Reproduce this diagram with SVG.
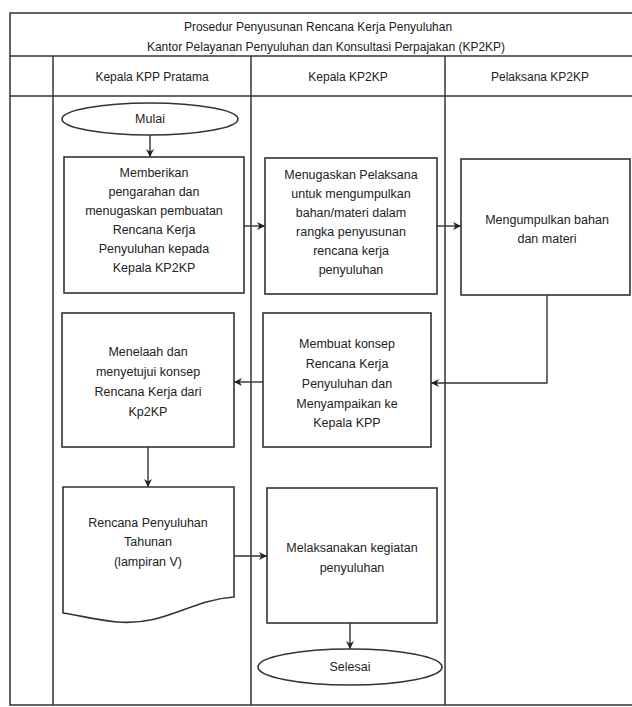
<svg xmlns="http://www.w3.org/2000/svg" width="632" height="707" viewBox="0 0 632 707">
<defs>
<marker id="arr" viewBox="0 0 10 10" refX="10" refY="5" markerWidth="8" markerHeight="8" markerUnits="userSpaceOnUse" orient="auto">
<path d="M0,0 L10,5 L0,10 L3,5 z" fill="#222"/>
</marker>
<style>
.frame{fill:none;stroke:#333;stroke-width:1.5}
.box{fill:#fff;stroke:#333;stroke-width:1.6}
.con{fill:none;stroke:#333;stroke-width:1.4;marker-end:url(#arr)}
text{font-family:"Liberation Sans",Arial,sans-serif;font-size:12.5px;fill:#222;text-anchor:middle}
.hd{font-size:12px}
</style>
</defs>
<rect width="632" height="707" fill="#fff"/>
<g id="frame">
<path class="frame" d="M632,13 H10 V705 H632"/>
<line class="frame" x1="10" y1="56" x2="632" y2="56"/>
<line class="frame" x1="10" y1="96" x2="632" y2="96"/>
<line class="frame" x1="53" y1="56" x2="53" y2="705"/>
<line class="frame" x1="251" y1="56" x2="251" y2="705"/>
<line class="frame" x1="445" y1="56" x2="445" y2="705"/>
<text class="hd" x="318" y="31">Prosedur Penyusunan Rencana Kerja Penyuluhan</text>
<text class="hd" x="326" y="51">Kantor Pelayanan Penyuluhan dan Konsultasi Perpajakan (KP2KP)</text>
<text class="hd" x="152" y="81">Kepala KPP Pratama</text>
<text class="hd" x="348" y="81">Kepala KP2KP</text>
<text class="hd" x="540" y="81">Pelaksana KP2KP</text>
</g>
<g id="connectors">
<line class="con" x1="150" y1="135" x2="150" y2="157"/>
<line class="con" x1="244" y1="226" x2="265" y2="226"/>
<line class="con" x1="437" y1="226" x2="461" y2="226"/>
<polyline class="con" points="547,295 547,383 431,383"/>
<line class="con" x1="263" y1="382" x2="234" y2="382"/>
<line class="con" x1="148" y1="447" x2="148" y2="487"/>
<line class="con" x1="234" y1="556" x2="267" y2="556"/>
<line class="con" x1="350" y1="623" x2="350" y2="649"/>
</g>
<g id="mulai">
<ellipse class="box" cx="150" cy="119" rx="88" ry="16"/>
<text x="150" y="123">Mulai</text>
</g>
<g id="memberikan">
<rect class="box" x="64" y="157" width="180" height="136"/>
<text x="154" y="177">Memberikan</text>
<text x="154" y="196">pengarahan dan</text>
<text x="154" y="215">menugaskan pembuatan</text>
<text x="154" y="234">Rencana Kerja</text>
<text x="154" y="253">Penyuluhan  kepada</text>
<text x="154" y="272">Kepala KP2KP</text>
</g>
<g id="menugaskan">
<rect class="box" x="265" y="158" width="172" height="136"/>
<text x="351" y="179">Menugaskan Pelaksana</text>
<text x="351" y="198">untuk mengumpulkan</text>
<text x="351" y="217">bahan/materi dalam</text>
<text x="351" y="236">rangka penyusunan</text>
<text x="351" y="255">rencana kerja</text>
<text x="351" y="274">penyuluhan</text>
</g>
<g id="mengumpulkan">
<rect class="box" x="461" y="159" width="169" height="136"/>
<text x="547" y="224">Mengumpulkan bahan</text>
<text x="547" y="243">dan materi</text>
</g>
<g id="menelaah">
<rect class="box" x="62" y="313" width="172" height="134"/>
<text x="148" y="356">Menelaah dan</text>
<text x="148" y="376">menyetujui konsep</text>
<text x="148" y="396">Rencana Kerja dari</text>
<text x="148" y="416">Kp2KP</text>
</g>
<g id="membuat">
<rect class="box" x="263" y="313" width="168" height="134"/>
<text x="347" y="348">Membuat konsep</text>
<text x="347" y="368">Rencana Kerja</text>
<text x="347" y="388">Penyuluhan dan</text>
<text x="347" y="408">Menyampaikan ke</text>
<text x="347" y="427">Kepala KPP</text>
</g>
<g id="rencana">
<path class="box" d="M63,487 H234 V597 C190,600 165,626 117,622 C95,620 78,615 63,613 Z"/>
<text x="148" y="527">Rencana Penyuluhan</text>
<text x="148" y="546">Tahunan</text>
<text x="148" y="566">(lampiran V)</text>
</g>
<g id="melaksanakan">
<rect class="box" x="267" y="488" width="170" height="135"/>
<text x="352" y="552">Melaksanakan kegiatan</text>
<text x="352" y="572">penyuluhan</text>
</g>
<g id="selesai">
<ellipse class="box" cx="350" cy="667" rx="92" ry="18"/>
<text x="350" y="671">Selesai</text>
</g>
</svg>
